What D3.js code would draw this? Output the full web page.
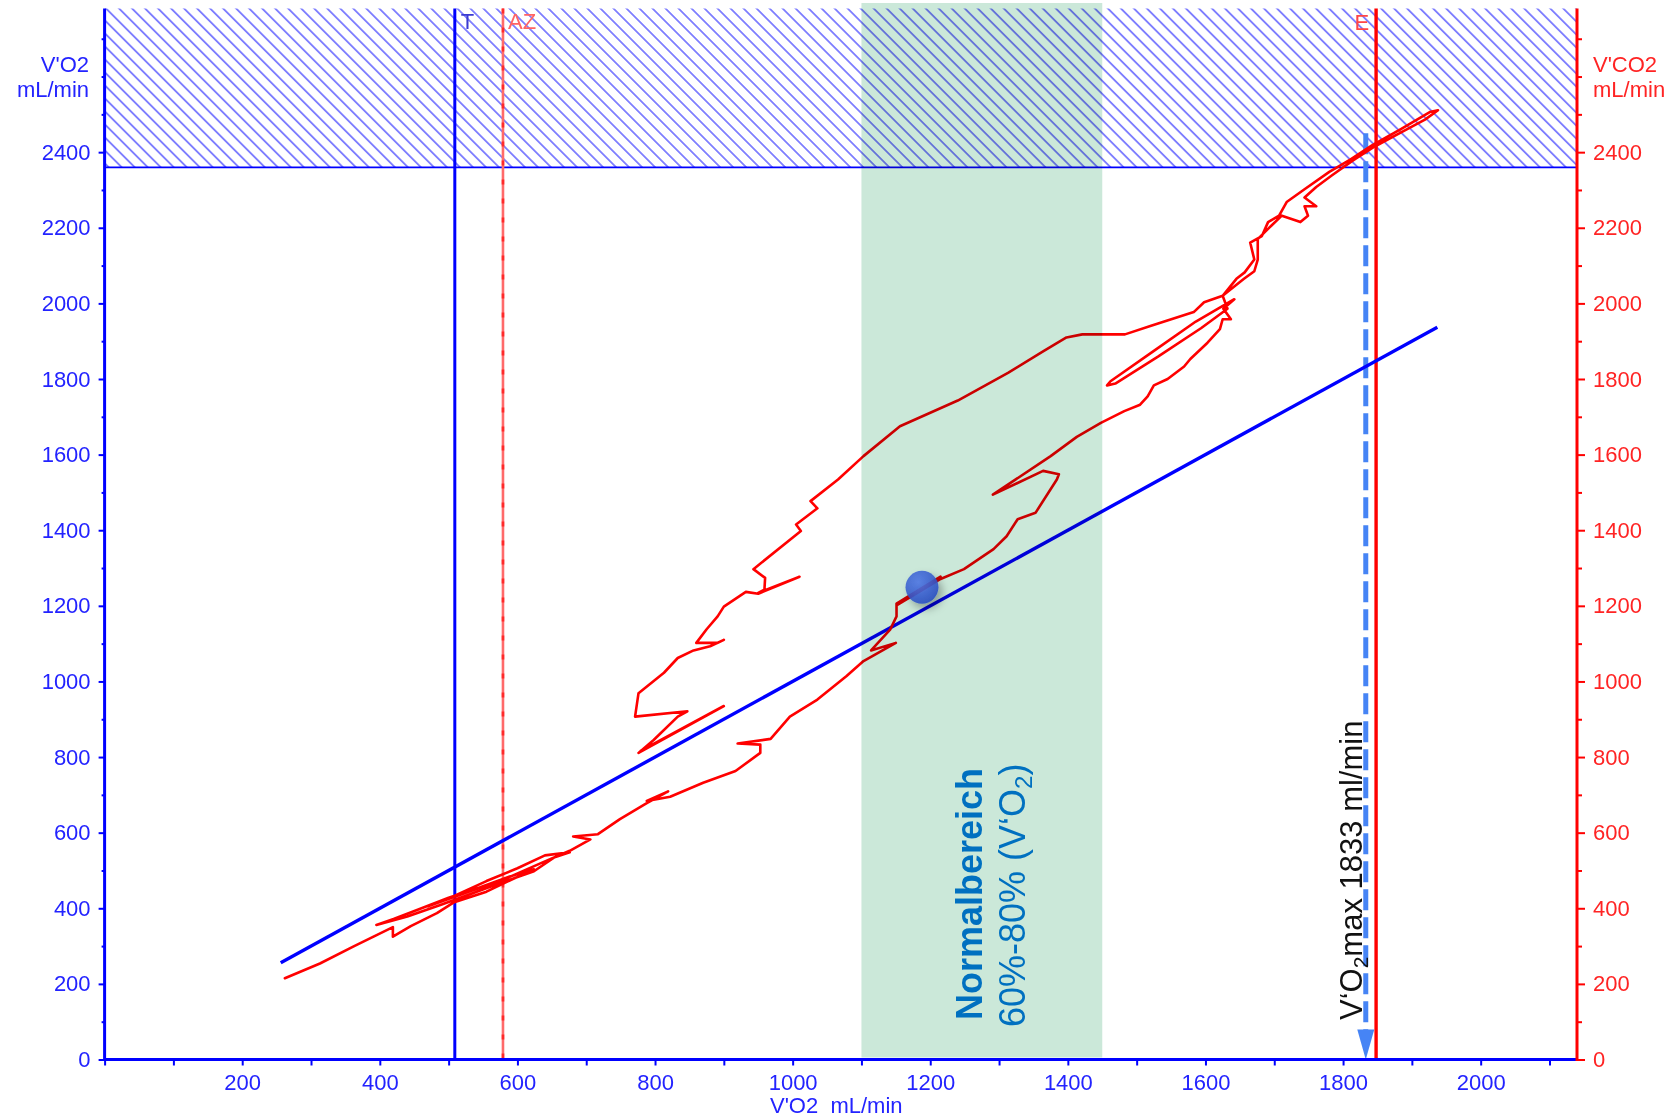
<!DOCTYPE html>
<html>
<head>
<meta charset="utf-8">
<script src="https://cdn.jsdelivr.net/npm/d3@7"></script>
<style>
  html, body { margin: 0; padding: 0; background: #ffffff; }
  svg { display: block; font-family: Arial, "Liberation Sans", sans-serif; }
</style>
</head>
<body>
<svg id="chart" width="1673" height="1117"></svg>
<script>
// ---- data (mL/min) ----
// V'CO2 trace plotted against V'O2, in recording order
const co2VO2 = [262,313,362,419,419,445,483,507,555,580,624,
  590,545,500,455,420,395,
  440,490,535,580,624,653,676,
  640,600,555,505,470,520,585,635,676,
  706,681,717,749,788,819,788,822,870,917,953,953,920,968,996,1036,1078,1103,1150,1114,1142,1151,1151,1215,1151,1215,
  1249,1292,1311,1327,1353,1384,1387,1364,1291,1375,1413,1448,1482,1505,1516,1525,1545,1569,1578,1603,1621,1625,1637,1626,1642,
  1586,1524,1462,1457,1469,1531,1594,1632,1625,1645,1657,1671,1665,1682,1691,1707,1718,1744,1780,1811,1842,1884,1926,1938,
  1919,1881,1846,1815,1784,1761,1744,1761,1744,1749,1738,1711,1696,1676,1676,1671,1656,1625,1598,1583,1521,1483,1421,1398,
  1364,1313,1240,1156,1103,1066,1026,1036,1005,1012,943,960,959,950,1010,950,932,900,891,875,860,891,900,880,856,833,813,
  776,771,847,833,798,776,900,779];
const co2VCO2 = [215,254,299,350,325,353,387,415,444,466,503,
  485,455,428,396,372,356,
  378,410,440,470,498,534,548,
  540,506,472,430,405,438,480,520,552,
  582,590,596,636,678,709,684,695,732,763,811,833,836,848,907,952,1014,1054,1102,1082,1138,1172,1206,1277,1201,1271,
  1297,1350,1384,1429,1446,1534,1548,1557,1494,1596,1647,1684,1715,1732,1754,1783,1800,1833,1853,1896,1932,1958,1958,1986,2011,
  1952,1873,1794,1783,1788,1859,1935,1986,2020,2065,2082,2116,2161,2178,2215,2232,2268,2302,2348,2381,2418,2461,2506,2511,
  2486,2449,2415,2379,2339,2308,2280,2257,2257,2232,2215,2232,2206,2170,2116,2085,2065,2020,2003,1977,1941,1918,1918,1910,
  1873,1816,1743,1675,1596,1534,1477,1458,1415,1398,1297,1274,1243,1234,1277,1232,1237,1198,1172,1138,1102,1102,1110,1093,1082,1062,1023,
  969,907,921,907,845,811,935,816];

// V'O2 plotted against itself
const refVO2 = [256, 1937];
const refVO2y = [256, 1937];

// threshold markers
const markerNames = ["T", "AZ", "E"];
const markerVO2 = [509, 579, 1848];

// normal range band (V'O2), peak uptake, shaded upper zone, marked working point
const normRange = [1100, 1450];
const vo2max = 1833;
const vo2maxArrowTop = 2450;
const hatchFloor = 2360;
const workPointVO2 = 1188;
const workPointVCO2 = 1249;

const xMajor = [200, 400, 600, 800, 1000, 1200, 1400, 1600, 1800, 2000];
const xAll = d3.range(0, 2101, 100);
const yMajor = [0, 200, 400, 600, 800, 1000, 1200, 1400, 1600, 1800, 2000, 2200, 2400];
const yAll = d3.range(0, 2701, 100);

// ---- layout ----
const svg = d3.select("#chart");
const x = d3.scaleLinear().domain([0, 2140]).range([104.6, 1577]);
const y = d3.scaleLinear().domain([0, 2780]).range([1059.5, 8.5]);

const BLUE = "#0000ff", BLUE_TXT = "#2323ff", RED = "#ff0000", RED_TXT = "#ff2424";

const defs = svg.append("defs");
const pat = defs.append("pattern")
  .attr("id", "hatch").attr("patternUnits", "userSpaceOnUse")
  .attr("width", 9.2).attr("height", 9.2)
  .attr("patternTransform", "rotate(-45)");
pat.append("line").attr("x1", 4.6).attr("x2", 4.6).attr("y1", -1).attr("y2", 10.2)
  .attr("stroke", "#2828ff").attr("stroke-width", 1.1);

const grad = defs.append("radialGradient").attr("id", "ballFill")
  .attr("cx", "40%").attr("cy", "35%").attr("r", "65%");
grad.append("stop").attr("offset", "0%").attr("stop-color", "#4f78e6");
grad.append("stop").attr("offset", "100%").attr("stop-color", "#2a4fc2");

const shadow = defs.append("filter").attr("id", "ballShadow")
  .attr("x", "-50%").attr("y", "-50%").attr("width", "220%").attr("height", "220%");
shadow.append("feDropShadow").attr("dx", 4).attr("dy", 5).attr("stdDeviation", 4)
  .attr("flood-color", "#000").attr("flood-opacity", 0.35);

// hatched upper zone
svg.append("rect")
  .attr("x", x(0)).attr("y", y(2780))
  .attr("width", x(2140) - x(0)).attr("height", y(hatchFloor) - y(2780))
  .attr("fill", "url(#hatch)");
svg.append("line")
  .attr("x1", x(0)).attr("x2", x(2140)).attr("y1", y(hatchFloor)).attr("y2", y(hatchFloor))
  .attr("stroke", BLUE).attr("stroke-width", 1.7);

// threshold lines
const [tVO2, azVO2, eVO2] = markerVO2;
svg.append("line").attr("x1", x(tVO2)).attr("x2", x(tVO2)).attr("y1", y(2780)).attr("y2", y(0))
  .attr("stroke", BLUE).attr("stroke-width", 3);
svg.append("line").attr("x1", x(azVO2)).attr("x2", x(azVO2)).attr("y1", y(2780)).attr("y2", y(0))
  .attr("stroke", "#ff6a6a").attr("stroke-width", 2.6);
svg.append("line").attr("x1", x(azVO2)).attr("x2", x(azVO2)).attr("y1", y(2780)).attr("y2", y(0))
  .attr("stroke", "#ff2a2a").attr("stroke-width", 2.6).attr("stroke-dasharray", "5,14");

// V'O2 max arrow
const ax = x(vo2max);
svg.append("line").attr("x1", ax).attr("x2", ax)
  .attr("y1", y(vo2maxArrowTop)).attr("y2", y(0) - 26)
  .attr("stroke", "#4684f5").attr("stroke-width", 5).attr("stroke-dasharray", "21,7");
svg.append("path")
  .attr("d", `M${ax - 8.5},${y(0) - 30} L${ax + 8.5},${y(0) - 30} L${ax},${y(0)} Z`)
  .attr("fill", "#4684f5");

svg.append("line").attr("x1", x(eVO2)).attr("x2", x(eVO2)).attr("y1", y(2780)).attr("y2", y(0))
  .attr("stroke", RED).attr("stroke-width", 3.4);

// reference line and V'CO2 trace
svg.append("path")
  .datum(refVO2.map((v, i) => [v, refVO2y[i]]))
  .attr("d", d3.line().x(d => x(d[0])).y(d => y(d[1])))
  .attr("fill", "none").attr("stroke", BLUE).attr("stroke-width", 3.4);

svg.append("path")
  .datum(co2VO2.map((v, i) => [v, co2VCO2[i]]))
  .attr("d", d3.line().x(d => x(d[0])).y(d => y(d[1])))
  .attr("fill", "none").attr("stroke", RED).attr("stroke-width", 2.6)
  .attr("stroke-linejoin", "round").attr("stroke-linecap", "round");

// ---- axes ----
function styleAxis(g, color, txtColor) {
  g.select(".domain").remove();
  g.selectAll(".tick line").attr("stroke", color).attr("stroke-width", 2);
  g.selectAll(".tick text").attr("fill", txtColor).style("font-size", "22px")
    .style("font-family", 'Arial, "Liberation Sans", sans-serif');
}
const fmt = d => String(d);

// left (V'O2)
const gLm = svg.append("g").attr("transform", `translate(${x(0)},0)`)
  .call(d3.axisLeft(y).tickValues(yAll.filter(v => !yMajor.includes(v))).tickSize(3).tickFormat(""));
styleAxis(gLm, BLUE, BLUE_TXT);
const gL = svg.append("g").attr("transform", `translate(${x(0)},0)`)
  .call(d3.axisLeft(y).tickValues(yMajor).tickSize(6).tickPadding(8).tickFormat(fmt));
styleAxis(gL, BLUE, BLUE_TXT);

// right (V'CO2)
const gRm = svg.append("g").attr("transform", `translate(${x(2140)},0)`)
  .call(d3.axisRight(y).tickValues(yAll.filter(v => !yMajor.includes(v))).tickSize(5).tickFormat(""));
styleAxis(gRm, RED, RED_TXT);
const gR = svg.append("g").attr("transform", `translate(${x(2140)},0)`)
  .call(d3.axisRight(y).tickValues(yMajor).tickSize(8).tickPadding(8).tickFormat(fmt));
styleAxis(gR, RED, RED_TXT);

// bottom (V'O2)
const gB = svg.append("g").attr("transform", `translate(0,${y(0)})`)
  .call(d3.axisBottom(x).tickValues(xAll).tickSize(6).tickPadding(9)
    .tickFormat(d => xMajor.includes(d) ? fmt(d) : ""));
styleAxis(gB, BLUE, BLUE_TXT);

// axis lines
svg.append("line").attr("x1", x(0)).attr("x2", x(2140)).attr("y1", y(0)).attr("y2", y(0))
  .attr("stroke", BLUE).attr("stroke-width", 3);
svg.append("line").attr("x1", x(0)).attr("x2", x(0)).attr("y1", y(2780)).attr("y2", y(0) + 1.5)
  .attr("stroke", BLUE).attr("stroke-width", 3);
svg.append("line").attr("x1", x(2140)).attr("x2", x(2140)).attr("y1", y(2780)).attr("y2", y(0) + 1.5)
  .attr("stroke", RED).attr("stroke-width", 3);

// axis titles
const lt = svg.append("text").attr("text-anchor", "end").attr("fill", BLUE_TXT).style("font-size", "22px");
lt.append("tspan").attr("x", 89).attr("y", 72).text("V'O2");
lt.append("tspan").attr("x", 89).attr("y", 97).text("mL/min");
const rt = svg.append("text").attr("text-anchor", "start").attr("fill", RED_TXT).style("font-size", "22px");
rt.append("tspan").attr("x", 1593).attr("y", 72).text("V'CO2");
rt.append("tspan").attr("x", 1593).attr("y", 97).text("mL/min");
svg.append("text").attr("x", 770).attr("y", 1113).attr("fill", BLUE_TXT).style("font-size", "22px")
  .attr("xml:space", "preserve").text("V'O2  mL/min");

// marker labels
svg.append("text").attr("x", x(tVO2) + 6).attr("y", 29).attr("fill", "#3a3ad2")
  .style("font-size", "22px").text(markerNames[0]);
svg.append("text").attr("x", x(azVO2) + 5).attr("y", 29).attr("fill", "#ff6464")
  .style("font-size", "22px").text(markerNames[1]);
svg.append("text").attr("x", x(eVO2) - 7).attr("y", 30).attr("text-anchor", "end").attr("fill", "#ff4545")
  .style("font-size", "22px").text(markerNames[2]);

// normal range band, blended over the marks beneath it
svg.append("rect")
  .attr("x", x(normRange[0])).attr("y", 3)
  .attr("width", x(normRange[1]) - x(normRange[0])).attr("height", y(0) - 5)
  .attr("fill", "#cbe8d9").style("mix-blend-mode", "multiply");

// marked working point
svg.append("circle")
  .attr("cx", x(workPointVO2)).attr("cy", y(workPointVCO2)).attr("r", 16.5)
  .attr("fill", "url(#ballFill)").attr("fill-opacity", 0.88)
  .attr("filter", "url(#ballShadow)");

// band caption
const bandMid = (x(normRange[0]) + x(normRange[1])) / 2;
svg.append("text")
  .attr("transform", `translate(${bandMid},1020) rotate(-90)`)
  .attr("fill", "#0070c0").style("font-size", "36px").style("font-weight", "bold")
  .text("Normalbereich");
const cap2 = svg.append("text")
  .attr("transform", `translate(${bandMid + 43},1027) rotate(-90)`)
  .attr("fill", "#0070c0").style("font-size", "36px");
cap2.append("tspan").text("60%-80% (V‘O");
cap2.append("tspan").attr("dy", 7).style("font-size", "24px").text("2");
cap2.append("tspan").attr("dy", -7).text(")");

// V'O2 max caption
const vm = svg.append("text")
  .attr("transform", `translate(${ax - 4},1020) rotate(-90)`)
  .attr("fill", "#111111").style("font-size", "31px");
vm.append("tspan").text("V‘O");
vm.append("tspan").attr("dy", 6).style("font-size", "21px").text("2");
vm.append("tspan").attr("dy", -6).text(`max ${vo2max} ml/min`);
</script>
</body>
</html>
